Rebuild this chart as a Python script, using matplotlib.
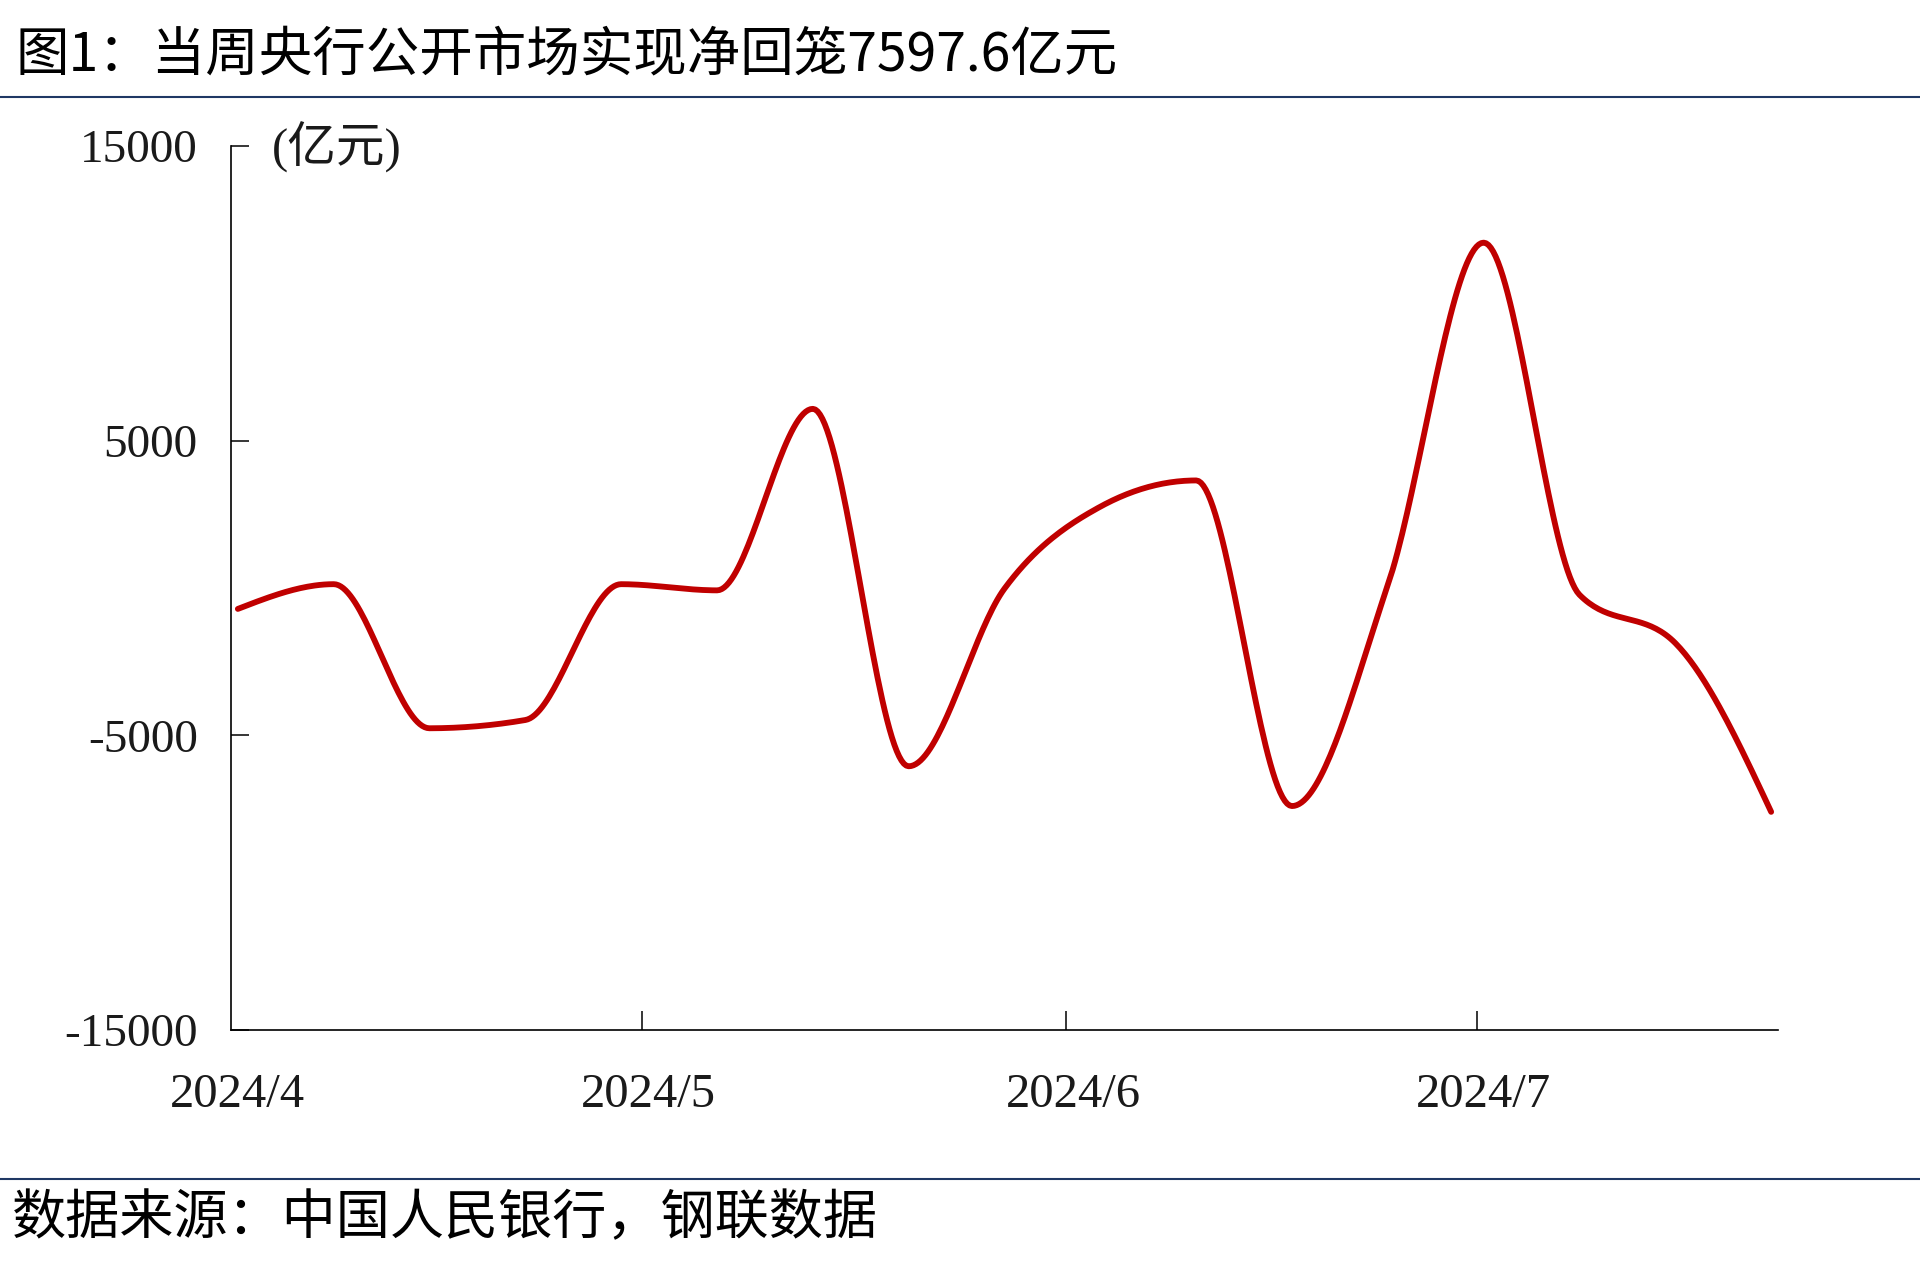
import numpy as np
import matplotlib
matplotlib.use("Agg")
import matplotlib.pyplot as plt
from matplotlib.lines import Line2D

# weekly net injection (亿元)
dates = ["2024-04-01", "2024-04-08", "2024-04-15", "2024-04-22", "2024-04-29",
         "2024-05-06", "2024-05-13", "2024-05-20", "2024-05-27", "2024-06-03",
         "2024-06-10", "2024-06-17", "2024-06-24", "2024-07-01", "2024-07-08",
         "2024-07-15", "2024-07-22"]
values = [-710, 130, -4760, -4480, 130,
          -80, 6080, -6050, -20, 2760,
          3650, -7400, 100, 11720, -230,
          -1870, -7597.6]

month_starts = ["2024-04-01", "2024-05-01", "2024-06-01", "2024-07-01"]
month_labels = ["2024/4", "2024/5", "2024/6", "2024/7"]
yticks = [-15000, -5000, 5000, 15000]

title = "图1：当周央行公开市场实现净回笼7597.6亿元"
source = "数据来源：中国人民银行，钢联数据"

CJK = ["Noto Sans CJK SC", "DejaVu Sans"]
SERIF = ["Liberation Serif", "Noto Sans CJK SC"]


def monotone_smooth(x, y, n=40):
    # monotone cubic (Steffen), like a smoothed line
    x = np.asarray(x, float)
    y = np.asarray(y, float)
    h = np.diff(x)
    s = np.diff(y) / h
    m = np.zeros_like(y)
    for i in range(1, len(y) - 1):
        p = (s[i - 1] * h[i] + s[i] * h[i - 1]) / (h[i - 1] + h[i])
        sg = (1 if s[i - 1] >= 0 else -1) + (1 if s[i] >= 0 else -1)
        m[i] = sg * min(abs(s[i - 1]), abs(s[i]), 0.5 * abs(p))
    m[0] = (3 * s[0] - m[1]) / 2
    m[-1] = (3 * s[-1] - m[-2]) / 2
    xs, ys = [], []
    for i in range(len(y) - 1):
        t = np.linspace(0, 1, n, endpoint=(i == len(y) - 2))
        h00 = 2 * t**3 - 3 * t**2 + 1
        h10 = t**3 - 2 * t**2 + t
        h01 = -2 * t**3 + 3 * t**2
        h11 = t**3 - t**2
        xs.append(x[i] + t * h[i])
        ys.append(h00 * y[i] + h10 * h[i] * m[i] + h01 * y[i + 1] + h11 * h[i] * m[i + 1])
    return np.concatenate(xs), np.concatenate(ys)


base = np.datetime64("2024-04-01")
x = (np.array(dates, dtype="datetime64[D]") - base).astype(float)
mx = (np.array(month_starts, dtype="datetime64[D]") - base).astype(float)

W, H = 1920, 1279
fig = plt.figure(figsize=(W / 100, H / 100), dpi=100)
ax = fig.add_axes([231 / W, 1 - 1030 / H, (1778 - 231) / W, (1030 - 146) / H])

sx, sy = monotone_smooth(x, values)
ax.plot(sx, sy, color="#C00000", lw=4.2, solid_capstyle="round")

ax.set_xlim(-0.5, 112.5)
ax.set_ylim(-15000, 15000)

for side in ["top", "right"]:
    ax.spines[side].set_visible(False)
for side in ["left", "bottom"]:
    ax.spines[side].set_linewidth(1.2)
    ax.spines[side].set_color("black")

ax.set_yticks(yticks)
ax.set_yticklabels([str(v) for v in yticks], family=SERIF, fontsize=34, color="#1a1a1a")
ax.tick_params(axis="y", direction="in", length=13, width=1.1, pad=24)

ax.set_xticks(mx)
ax.set_xticklabels(month_labels, family=SERIF, fontsize=35, color="#1a1a1a")
ax.tick_params(axis="x", which="major", length=0, pad=31)
ax.set_xticks(mx[1:] - 0.5, minor=True)
ax.tick_params(axis="x", which="minor", direction="in", length=13.5, width=1.1)

ax.text(272 / W, 1 - 147 / H, "(亿元)", transform=fig.transFigure, family=SERIF,
        fontsize=35, color="#1a1a1a", ha="left", va="center")

fig.text(15 / W, 1 - 55 / H, title, family=CJK, fontsize=38.5, color="black",
         ha="left", va="center")
fig.text(12 / W, 1 - 1219 / H, source, family=CJK, fontsize=39, color="black",
         ha="left", va="center")

for yy in [97, 1179]:
    fig.add_artist(Line2D([0, 1], [1 - yy / H, 1 - yy / H], transform=fig.transFigure,
                          color="#1F3864", lw=1.5))

fig.savefig("out.png", dpi=100)
